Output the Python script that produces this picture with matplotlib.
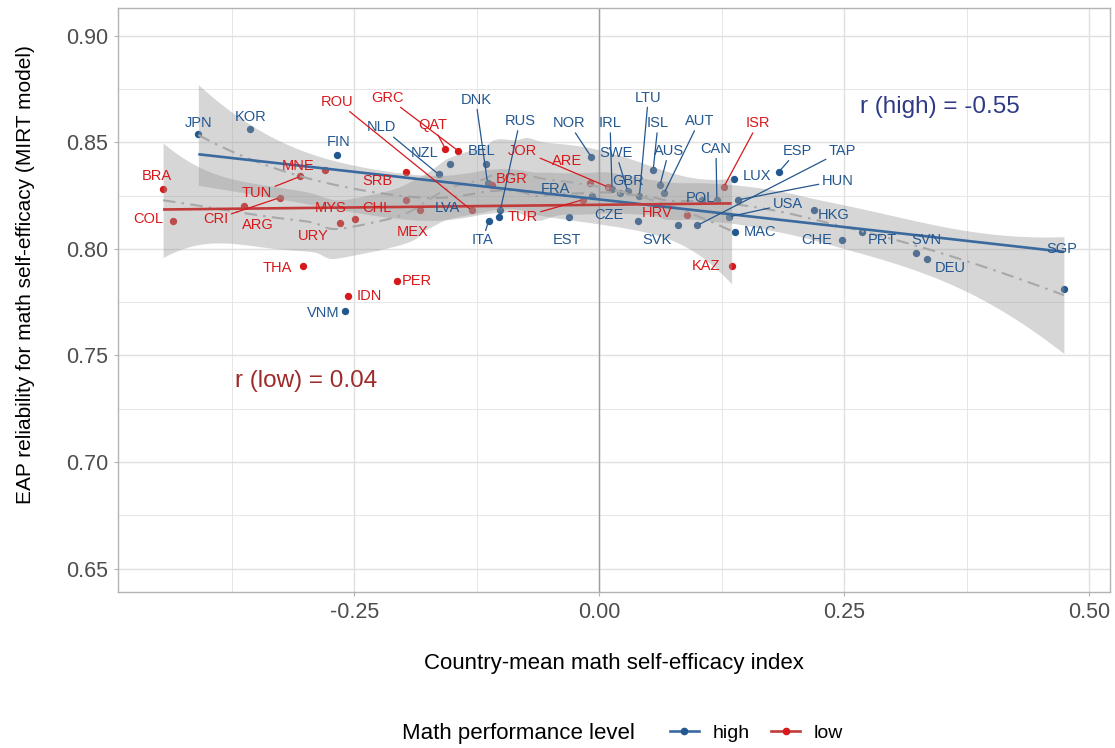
import numpy as np
import matplotlib
matplotlib.use("Agg")
import matplotlib.pyplot as plt
from matplotlib.lines import Line2D

plt.rcParams["font.family"] = ["Liberation Sans", "DejaVu Sans"]
plt.rcParams["axes.unicode_minus"] = False

# country means: math self-efficacy index vs EAP reliability
high_countries = [
    "JPN", "KOR", "FIN", "VNM", "NLD", "NZL", "BEL", "DNK", "ITA", "RUS",
    "LVA", "EST", "FRA", "NOR", "IRL", "SWE", "GBR", "LTU", "ISL", "AUS",
    "AUT", "CAN", "POL", "LUX", "ESP", "TAP", "HUN", "USA", "CZE", "SVK",
    "MAC", "HKG", "CHE", "PRT", "SVN", "DEU", "SGP",
]
high_efficacy = [
    -0.409, -0.356, -0.268, -0.259, -0.164, -0.152, -0.116, -0.114, -0.113, -0.101,
    -0.102, -0.031, -0.007, -0.008, 0.013, 0.029, 0.021, 0.041, 0.055, 0.062,
    0.066, 0.120, 0.105, 0.137, 0.183, 0.100, 0.142, 0.132, 0.039, 0.080,
    0.138, 0.219, 0.248, 0.268, 0.323, 0.334, 0.474,
]
high_reliability = [
    0.854, 0.856, 0.844, 0.771, 0.835, 0.840, 0.840, 0.831, 0.813, 0.818,
    0.815, 0.815, 0.825, 0.843, 0.828, 0.827, 0.826, 0.825, 0.837, 0.830,
    0.826, 0.823, 0.823, 0.833, 0.836, 0.811, 0.823, 0.815, 0.813, 0.811,
    0.808, 0.818, 0.804, 0.808, 0.798, 0.795, 0.781,
]

low_countries = [
    "BRA", "COL", "ARG", "CRI", "TUN", "MNE", "URY", "MYS", "THA", "IDN",
    "PER", "SRB", "CHL", "MEX", "GRC", "QAT", "ROU", "BGR", "ARE", "JOR",
    "TUR", "HRV", "ISR", "KAZ",
]
low_efficacy = [
    -0.445, -0.435, -0.362, -0.326, -0.305, -0.280, -0.265, -0.249, -0.302, -0.256,
    -0.206, -0.197, -0.197, -0.183, -0.144, -0.157, -0.130, -0.109, -0.009, 0.009,
    -0.017, 0.090, 0.127, 0.135,
]
low_reliability = [
    0.828, 0.813, 0.820, 0.824, 0.834, 0.837, 0.812, 0.814, 0.792, 0.778,
    0.785, 0.836, 0.823, 0.818, 0.846, 0.847, 0.818, 0.830, 0.831, 0.829,
    0.823, 0.816, 0.829, 0.792,
]

# where each repelled label sits (data units)
label_pos = {
    "JPN": (-0.409, 0.859), "KOR": (-0.356, 0.862), "FIN": (-0.266, 0.850),
    "VNM": (-0.282, 0.770), "NLD": (-0.222, 0.857), "NZL": (-0.178, 0.845),
    "BEL": (-0.120, 0.846), "DNK": (-0.126, 0.870), "ITA": (-0.119, 0.804),
    "RUS": (-0.081, 0.860), "LVA": (-0.155, 0.819), "EST": (-0.033, 0.804),
    "FRA": (-0.045, 0.828), "NOR": (-0.031, 0.859), "IRL": (0.011, 0.859),
    "SWE": (0.017, 0.845), "GBR": (0.029, 0.832), "LTU": (0.050, 0.871),
    "ISL": (0.060, 0.859), "AUS": (0.071, 0.846), "AUT": (0.102, 0.860),
    "CAN": (0.119, 0.847), "POL": (0.103, 0.824), "LUX": (0.161, 0.834),
    "ESP": (0.202, 0.846), "TAP": (0.248, 0.846), "HUN": (0.243, 0.832),
    "USA": (0.192, 0.821), "CZE": (0.010, 0.816), "SVK": (0.059, 0.804),
    "MAC": (0.164, 0.808), "HKG": (0.239, 0.816), "CHE": (0.222, 0.804),
    "PRT": (0.289, 0.804), "SVN": (0.334, 0.804), "DEU": (0.358, 0.791),
    "SGP": (0.472, 0.800),
    "BRA": (-0.451, 0.834), "COL": (-0.460, 0.814), "ARG": (-0.348, 0.811),
    "CRI": (-0.391, 0.814), "TUN": (-0.349, 0.826), "MNE": (-0.307, 0.839),
    "URY": (-0.292, 0.806), "MYS": (-0.274, 0.819), "THA": (-0.328, 0.791),
    "IDN": (-0.235, 0.778), "PER": (-0.186, 0.785), "SRB": (-0.226, 0.832),
    "CHL": (-0.227, 0.819), "MEX": (-0.190, 0.808), "GRC": (-0.216, 0.871),
    "QAT": (-0.170, 0.858), "ROU": (-0.267, 0.869), "BGR": (-0.089, 0.833),
    "ARE": (-0.033, 0.841), "JOR": (-0.078, 0.846), "TUR": (-0.078, 0.815),
    "HRV": (0.059, 0.817), "ISR": (0.162, 0.859), "KAZ": (0.109, 0.792),
}
leader = {
    "ROU", "GRC", "QAT", "NLD", "DNK", "RUS", "NOR", "IRL", "SWE", "LTU",
    "ISL", "AUS", "AUT", "CAN", "ISR", "ESP", "TAP", "HUN", "USA", "CRI",
    "TUN", "JOR", "TUR", "ITA",
}


def loess_band(x, y, grid, span=0.75):
    """Local quadratic fit with tricube weights and a 95% band."""
    n = len(x)
    q = int(np.floor(n * span))

    def row(x0):
        d = np.abs(x - x0)
        h = np.sort(d)[q - 1]
        u = np.clip(d / h, 0, 1)
        w = (1 - u ** 3) ** 3
        X = np.column_stack([np.ones(n), x - x0, (x - x0) ** 2])
        XtW = X.T * w
        return np.linalg.solve(XtW @ X, XtW)[0]

    L = np.array([row(v) for v in x])
    resid = y - L @ y
    M = np.eye(n) - L
    A = M.T @ M
    d1, d2 = np.trace(A), np.trace(A @ A)
    sigma = np.sqrt(resid @ resid / d1)
    df = d1 ** 2 / d2
    G = np.array([row(v) for v in grid])
    fit = G @ y
    se = sigma * np.sqrt((G ** 2).sum(axis=1))
    z = 1.959964
    t = z + (z ** 3 + z) / (4 * df) + (5 * z ** 5 + 16 * z ** 3 + 3 * z) / (96 * df ** 2)
    return fit, fit - t * se, fit + t * se


blue = "#23578F"
red = "#D7191C"
blue_line = "#3A6A9E"
red_line = "#C23B3B"
label_size = 10.5

fig = plt.figure(figsize=(11.15, 7.48), dpi=100)
ax = fig.add_axes([0.1058, 0.2086, 0.8897, 0.7807])

groups = [
    (high_countries, high_efficacy, high_reliability, blue, blue_line),
    (low_countries, low_efficacy, low_reliability, red, red_line),
]

for names, xs, ys, col, lcol in groups:
    ax.scatter(xs, ys, s=28, color=col, zorder=2, linewidths=0)

for names, xs, ys, col, lcol in groups:
    x = np.asarray(xs)
    y = np.asarray(ys)
    grid = np.linspace(x.min(), x.max(), 120)
    fit, lo, hi = loess_band(x, y, grid)
    ax.fill_between(grid, lo, hi, color="#999999", alpha=0.4, linewidth=0, zorder=3)
    ax.plot(grid, fit, color="#A8A8A8", linewidth=1.5, dashes=(6, 3, 1.2, 3), zorder=3)

for names, xs, ys, col, lcol in groups:
    x = np.asarray(xs)
    y = np.asarray(ys)
    slope, icpt = np.polyfit(x, y, 1)
    ends = np.array([x.min(), x.max()])
    ax.plot(ends, icpt + slope * ends, color=lcol, linewidth=1.9, zorder=4,
            solid_capstyle="butt")

for names, xs, ys, col, lcol in groups:
    for name, px, py in zip(names, xs, ys):
        lx, ly = label_pos[name]
        if name in leader:
            ax.annotate(name, xy=(px, py), xytext=(lx, ly), fontsize=label_size,
                        color=col, ha="center", va="center", zorder=6,
                        arrowprops=dict(arrowstyle="-", color=col, lw=0.9,
                                        shrinkA=0, shrinkB=2))
        else:
            ax.text(lx, ly, name, fontsize=label_size, color=col, ha="center",
                    va="center", zorder=6)

ax.axvline(0, color="#A0A0A0", linewidth=1.0, zorder=1)

ax.text(0.266, 0.8665, "r (high) = -0.55", fontsize=17.5, color="#2E3A86",
        ha="left", va="center", zorder=6)
ax.text(-0.372, 0.7378, "r (low) = 0.04", fontsize=17.5, color="#9E2B2B",
        ha="left", va="center", zorder=6)

ax.set_xlim(-0.491, 0.521)
ax.set_ylim(0.639, 0.913)
ax.set_xticks([-0.25, 0.0, 0.25, 0.50])
ax.set_xticklabels(["-0.25", "0.00", "0.25", "0.50"])
ax.set_yticks([0.65, 0.70, 0.75, 0.80, 0.85, 0.90])
ax.set_yticklabels(["0.65", "0.70", "0.75", "0.80", "0.85", "0.90"])
ax.set_xticks([-0.375, -0.125, 0.125, 0.375], minor=True)
ax.set_yticks([0.675, 0.725, 0.775, 0.825, 0.875], minor=True)
ax.grid(which="major", color="#E0E0E0", linewidth=1.0, zorder=0)
ax.grid(which="minor", color="#E6E6E6", linewidth=0.7, zorder=0)
ax.set_axisbelow(True)
ax.tick_params(which="major", length=3, color="#B3B3B3", labelsize=15.5,
               labelcolor="#4D4D4D", pad=4)
ax.tick_params(which="minor", length=0)
for sp in ax.spines.values():
    sp.set_color("#B3B3B3")
    sp.set_linewidth(1.0)

ax.set_xlabel("Country-mean math self-efficacy index", fontsize=16, labelpad=22)
ax.set_ylabel("EAP reliability for math self-efficacy (MIRT model)", fontsize=15)
ax.yaxis.set_label_coords(-0.084, 0.543)

fig.text(0.4646, 1 - 733 / 748, "Math performance level", fontsize=16,
         ha="center", va="center")
handles = [
    Line2D([], [], color=blue_line, linewidth=1.9, marker="o", markersize=4.5,
           markerfacecolor=blue, markeredgecolor=blue),
    Line2D([], [], color=red_line, linewidth=1.9, marker="o", markersize=4.5,
           markerfacecolor=red, markeredgecolor=red),
]
fig.legend(handles, ["high", "low"], loc="center left",
           bbox_to_anchor=(0.585, 1 - 733 / 748), ncol=2, frameon=False,
           fontsize=14, handlelength=1.5, handletextpad=0.7, columnspacing=1.1)

fig.savefig("out.png", dpi=100)
